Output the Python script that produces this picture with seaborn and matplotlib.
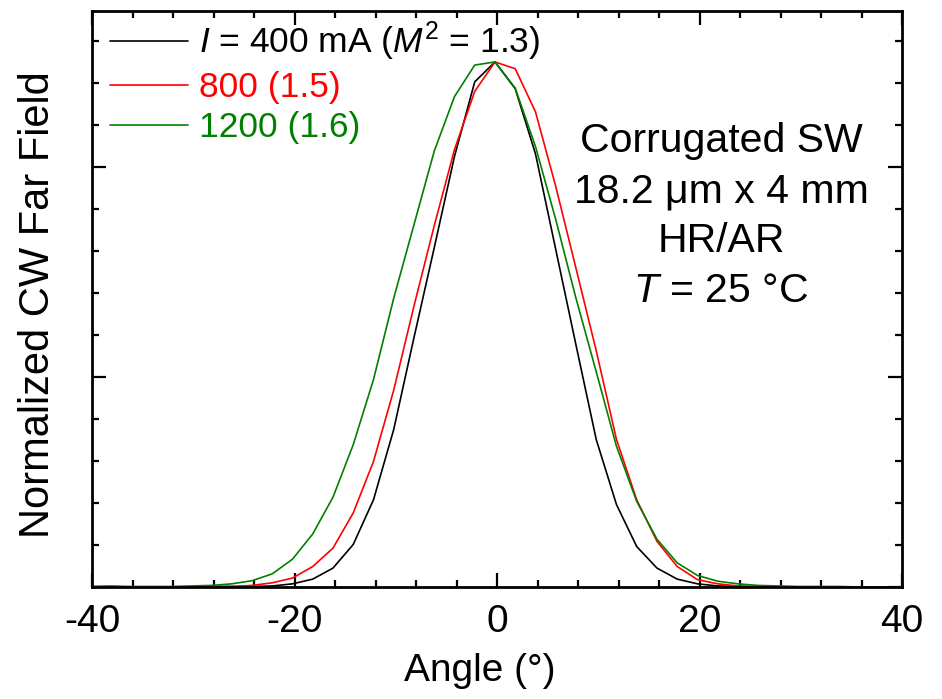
import numpy as np
import pandas as pd
import matplotlib
matplotlib.use("Agg")
import matplotlib.pyplot as plt
from matplotlib.ticker import MultipleLocator
from matplotlib.lines import Line2D
import seaborn as sns

# ---- data ----
angles = [-40.2 + 2 * i for i in range(41)]

i400 = [0.0, 0.0, 0.0, 0.0, 0.0, 0.0, 0.001, 0.001, 0.001, 0.002,
        0.006, 0.015, 0.036, 0.081, 0.166, 0.300, 0.475, 0.646, 0.820, 0.962,
        1.000,
        0.949, 0.825, 0.643, 0.461, 0.281, 0.157, 0.077, 0.036, 0.015, 0.006,
        0.002, 0.001, 0.0, 0.0, 0.0, 0.0, 0.0, 0.0, 0.0, 0.0]

i800 = [0.0, 0.0, 0.0, 0.0, 0.0, 0.0, 0.001, 0.001, 0.003, 0.008,
        0.017, 0.039, 0.074, 0.141, 0.239, 0.375, 0.535, 0.688, 0.833, 0.944,
        1.000,
        0.987, 0.905, 0.763, 0.607, 0.450, 0.281, 0.166, 0.087, 0.039, 0.014,
        0.006, 0.002, 0.001, 0.0, 0.0, 0.0, 0.0, 0.0, 0.0, 0.0]

i1200 = [0.001, 0.002, 0.001, 0.001, 0.001, 0.002, 0.003, 0.006, 0.012, 0.025,
         0.053, 0.101, 0.171, 0.271, 0.395, 0.550, 0.690, 0.830, 0.934, 0.994,
         1.000,
         0.950, 0.839, 0.700, 0.550, 0.410, 0.268, 0.163, 0.091, 0.046, 0.022,
         0.011, 0.006, 0.003, 0.002, 0.001, 0.001, 0.001, 0.0, 0.0, 0.0]

series_names = ["400", "800", "1200"]
legend_labels = [r"$I$ = 400 mA ($M^2$ = 1.3)", "800 (1.5)", "1200 (1.6)"]
colors = ["#000000", "#ff0000", "#008000"]

x_ticks = [-40, -20, 0, 20, 40]

df = pd.concat([
    pd.DataFrame({"angle": angles, "value": v, "series": n})
    for n, v in zip(series_names, [i400, i800, i1200])
], ignore_index=True)

# ---- style ----
sns.set_style("ticks")
plt.rcParams["font.family"] = ["Liberation Sans", "DejaVu Sans"]
plt.rcParams["mathtext.fontset"] = "custom"
plt.rcParams["mathtext.rm"] = "Liberation Sans"
plt.rcParams["mathtext.it"] = "Liberation Sans:italic"
plt.rcParams["text.color"] = "black"
plt.rcParams["axes.labelcolor"] = "black"
plt.rcParams["xtick.color"] = "black"
plt.rcParams["ytick.color"] = "black"

fig = plt.figure(figsize=(9.42, 6.99), dpi=100)
ax = fig.add_axes([92 / 942, 1 - 587 / 699, (902 - 92) / 942, (587 - 11) / 699])

sns.lineplot(data=df, x="angle", y="value", hue="series",
             palette=colors, hue_order=series_names, linewidth=1.2,
             ax=ax, legend=False, sort=False)

ax.set_xlim(-40, 40)
ax.set_ylim(0, 1.097)
ax.set_xticks(x_ticks)
ax.set_xticklabels([str(t) for t in x_ticks])
ax.xaxis.set_minor_locator(MultipleLocator(4))
ax.yaxis.set_major_locator(MultipleLocator(0.4))
ax.yaxis.set_minor_locator(MultipleLocator(0.08))
ax.tick_params(axis="both", which="both", direction="in",
               top=True, right=True, width=1.6, colors="black")
ax.tick_params(axis="both", which="major", length=10, labelsize=28, pad=12)
ax.tick_params(axis="both", which="minor", length=5)
ax.tick_params(axis="y", which="both", labelleft=False)
for s in ax.spines.values():
    s.set_linewidth(2.0)
    s.set_color("black")

ax.set_xlabel("Angle (°)", fontsize=28)
ax.xaxis.set_label_coords((480 - 92) / 810, -0.1146)
ax.set_ylabel("Normalized CW Far Field", fontsize=30)
ax.yaxis.set_label_coords((38 - 92) / 810, 0.49)
ax.yaxis.label.set_va("center")

handles = [Line2D([], [], color=c, linewidth=1.2) for c in colors]
ax.legend(handles, legend_labels, loc="upper left",
          bbox_to_anchor=(110 / 942, 1 - 20 / 699),
          bbox_transform=fig.transFigure, frameon=False,
          fontsize=25.5, handlelength=2.2, handletextpad=0.3,
          labelspacing=0.21, borderpad=0, borderaxespad=0,
          labelcolor="linecolor")

fig.text(721 / 942, 1 - 216 / 699,
         "Corrugated SW\n18.2 μm x 4 mm\nHR/AR\n$T$ = 25 °C",
         ha="center", va="center", fontsize=29.5, linespacing=1.4)

fig.savefig("out.png", dpi=100)
